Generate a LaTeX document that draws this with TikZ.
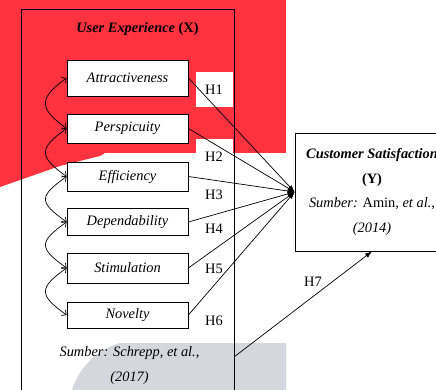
\documentclass[tikz,border=0pt]{standalone}
\usepackage{fontspec}
\setmainfont{Liberation Serif}
\usetikzlibrary{arrows.meta}
\definecolor{wmred}{RGB}{255,51,64}
\definecolor{wmgray}{RGB}{214,215,221}
\begin{document}
\begin{tikzpicture}[x=1pt,y=-1pt,
  dim/.style={draw, fill=white, line width=0.8pt, minimum width=121pt, inner sep=0pt, font=\fontsize{14.4}{17}\selectfont\itshape},
  hyp/.style={-{Latex[length=7pt,width=5pt]}, line width=0.7pt},
  corr/.style={{Straight Barb[length=3.5pt,width=7pt]}-{Straight Barb[length=3.5pt,width=7pt]}, line width=0.7pt},
  hlab/.style={fill=white, minimum width=37pt, minimum height=35pt, inner sep=0pt, font=\fontsize{14.4}{17}\selectfont},
  lbl/.style={inner sep=0pt, font=\fontsize{14.4}{17}\selectfont}]
\useasboundingbox (0,0) rectangle (436,390);
\clip (0,0) rectangle (436,390);
% background artefacts
\fill[wmred] (0,0) rectangle (286,153);
\fill[wmred] (0,150) -- (110,150) -- (100,156) -- (60,166) -- (0,187) -- cycle;
\fill[wmgray] (286,343) -- (120,343) .. controls (95,350) and (78,370) .. (72,390) -- (286,390) -- cycle;
% outer frame
\node[draw, line width=0.8pt, minimum width=213pt, minimum height=420pt, inner sep=0pt, anchor=north west] (ux) at (21,9) {};
\node[lbl] (uxt) at (137.5,29) {\textbf{\textit{User Experience} (X)}};
% dimension boxes
\node[dim, minimum height=36pt] (a1) at (127.5,78) {Attractiveness};
\node[dim, minimum height=29pt] (a2) at (127.5,128.5) {Perspicuity};
\node[dim, minimum height=29pt] (a3) at (127.5,176.5) {Efficiency};
\node[dim, minimum height=27pt] (a4) at (127.5,222) {Dependability};
\node[dim, minimum height=30pt] (a5) at (127.5,268) {Stimulation};
\node[dim, minimum height=26pt] (a6) at (127.5,315) {Novelty};
\node[lbl, align=center, font=\fontsize{14.4}{25}\selectfont\itshape] (src) at (129.5,365.5) {Sumber: Schrepp, et al.,\\(2017)};
% dependent variable
\node[draw, fill=white, line width=0.8pt, minimum width=154pt, minimum height=118pt, inner sep=0pt, align=center, font=\fontsize{14.4}{24.7}\selectfont] (cs) at (372,192)
  {\textbf{\textit{Customer Satisfaction}}\\\textbf{(Y)}\\\textit{Sumber:} Amin, \textit{et al.},\\\textit{(2014)}};
% hypothesis labels
\node[hlab] (h1) at (214,90) {H1};
\node[hlab] (h2) at (214,157) {H2};
\node[hlab] (h3) at (214,195) {H3};
\node[hlab] (h4) at (214,229) {H4};
\node[hlab] (h5) at (214,269) {H5};
\node[hlab] (h6) at (214,321) {H6};
\node[lbl] (h7) at (313,282) {H7};
\coordinate (h7s) at (234,357);
% hypothesis arrows
\draw[hyp] (a1.east) -- (cs.west);
\draw[hyp] (a2.east) -- (cs.west);
\draw[hyp] (a3.east) -- (cs.west);
\draw[hyp] (a4.east) -- (cs.west);
\draw[hyp] (a5.east) -- (cs.west);
\draw[hyp] (a6.east) -- (cs.west);
\draw[hyp] (h7s) -- (cs.south);
% correlations
\draw[corr] (a1.west) .. controls +(-28,20) and +(-28,-20) .. (a2.west);
\draw[corr] (a2.west) .. controls +(-28,20) and +(-28,-20) .. (a3.west);
\draw[corr] (a3.west) .. controls +(-28,20) and +(-28,-20) .. (a4.west);
\draw[corr] (a4.west) .. controls +(-28,20) and +(-28,-20) .. (a5.west);
\draw[corr] (a5.west) .. controls +(-28,20) and +(-28,-20) .. (a6.west);
\end{tikzpicture}
\end{document}
